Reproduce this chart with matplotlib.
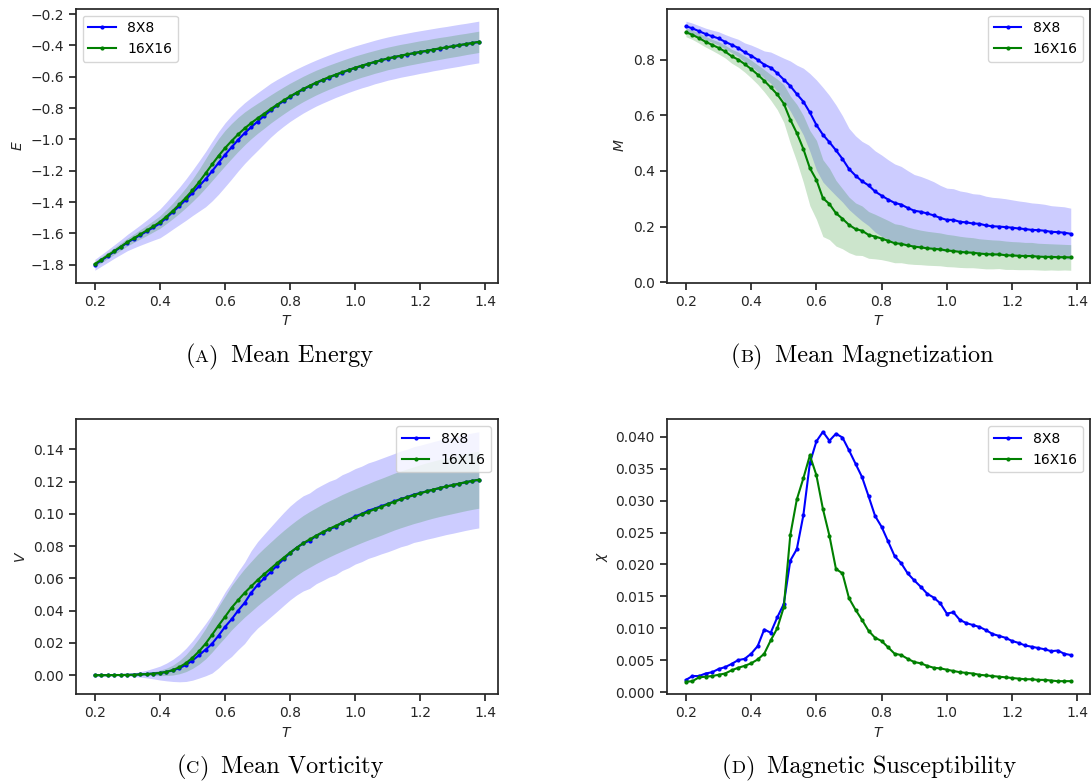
import matplotlib
matplotlib.use("Agg")
import matplotlib.pyplot as plt
import numpy as np
from matplotlib.offsetbox import TextArea, HPacker, AnnotationBbox

# temperatures, 0.20 .. 1.38 in steps of 0.02
T = np.round(np.arange(0.20, 1.3801, 0.02), 2)
sizes = ["8X8", "16X16"]
colors = ["blue", "green"]

# mean energy
E_8 = [-1.800, -1.772, -1.744, -1.715, -1.687, -1.658, -1.634, -1.610, -1.586, -1.561,
       -1.536, -1.500, -1.462, -1.424, -1.384, -1.341, -1.298, -1.254, -1.203, -1.150,
       -1.098, -1.050, -1.003, -0.960, -0.922, -0.886, -0.850, -0.814, -0.783, -0.755,
       -0.728, -0.704, -0.681, -0.660, -0.640, -0.622, -0.605, -0.588, -0.573, -0.558,
       -0.544, -0.531, -0.519, -0.506, -0.495, -0.484, -0.475, -0.466, -0.458, -0.450,
       -0.442, -0.435, -0.427, -0.420, -0.413, -0.406, -0.399, -0.392, -0.385, -0.378]
E_16 = [-1.795, -1.768, -1.740, -1.712, -1.684, -1.655, -1.630, -1.605, -1.580, -1.554,
        -1.527, -1.492, -1.455, -1.414, -1.371, -1.324, -1.273, -1.217, -1.160, -1.105,
        -1.055, -1.010, -0.968, -0.930, -0.896, -0.865, -0.836, -0.806, -0.778, -0.751,
        -0.725, -0.701, -0.678, -0.657, -0.637, -0.619, -0.602, -0.586, -0.571, -0.556,
        -0.542, -0.529, -0.517, -0.505, -0.494, -0.483, -0.474, -0.465, -0.457, -0.449,
        -0.441, -0.434, -0.426, -0.419, -0.412, -0.405, -0.398, -0.391, -0.384, -0.377]
E_8_std = [0.035, 0.037, 0.040, 0.043, 0.047, 0.052, 0.058, 0.065, 0.073, 0.082,
           0.092, 0.101, 0.110, 0.120, 0.132, 0.145, 0.160, 0.176, 0.190, 0.200,
           0.204, 0.203, 0.199, 0.194, 0.189, 0.184, 0.178, 0.172, 0.166, 0.161,
           0.157, 0.154, 0.151, 0.149, 0.147, 0.146, 0.145, 0.144, 0.143, 0.142,
           0.141, 0.140, 0.140, 0.139, 0.139, 0.138, 0.138, 0.137, 0.137, 0.137,
           0.136, 0.136, 0.135, 0.135, 0.134, 0.134, 0.134, 0.133, 0.133, 0.133]
E_16_std = [0.018, 0.019, 0.020, 0.022, 0.023, 0.025, 0.027, 0.030, 0.033, 0.036,
            0.040, 0.045, 0.050, 0.057, 0.064, 0.072, 0.082, 0.093, 0.103, 0.110,
            0.113, 0.112, 0.109, 0.105, 0.100, 0.096, 0.093, 0.090, 0.088, 0.086,
            0.084, 0.082, 0.081, 0.080, 0.079, 0.078, 0.077, 0.076, 0.076, 0.075,
            0.075, 0.074, 0.074, 0.073, 0.073, 0.072, 0.072, 0.072, 0.071, 0.071,
            0.071, 0.070, 0.070, 0.070, 0.069, 0.069, 0.069, 0.068, 0.068, 0.068]

# mean magnetization
M_8 = [0.920, 0.912, 0.902, 0.892, 0.884, 0.876, 0.864, 0.853, 0.842, 0.826,
       0.814, 0.799, 0.782, 0.771, 0.751, 0.728, 0.705, 0.676, 0.649, 0.610,
       0.565, 0.530, 0.503, 0.474, 0.443, 0.407, 0.383, 0.363, 0.348, 0.326,
       0.311, 0.297, 0.285, 0.279, 0.267, 0.257, 0.253, 0.247, 0.240, 0.231,
       0.224, 0.224, 0.217, 0.215, 0.211, 0.210, 0.204, 0.201, 0.200, 0.198,
       0.196, 0.193, 0.191, 0.188, 0.187, 0.185, 0.181, 0.180, 0.178, 0.174]
M_16 = [0.898, 0.889, 0.877, 0.864, 0.853, 0.842, 0.829, 0.812, 0.800, 0.784,
        0.766, 0.746, 0.724, 0.700, 0.675, 0.642, 0.584, 0.536, 0.479, 0.410,
        0.368, 0.302, 0.281, 0.248, 0.228, 0.206, 0.191, 0.185, 0.170, 0.164,
        0.157, 0.149, 0.140, 0.138, 0.132, 0.128, 0.125, 0.122, 0.120, 0.118,
        0.114, 0.112, 0.109, 0.107, 0.106, 0.103, 0.101, 0.100, 0.100, 0.097,
        0.096, 0.095, 0.094, 0.094, 0.092, 0.091, 0.091, 0.090, 0.090, 0.089]
M_8_std = [0.018, 0.019, 0.020, 0.021, 0.022, 0.024, 0.026, 0.028, 0.031, 0.034,
           0.038, 0.043, 0.049, 0.056, 0.065, 0.077, 0.090, 0.104, 0.120, 0.140,
           0.162, 0.170, 0.168, 0.163, 0.155, 0.146, 0.143, 0.143, 0.145, 0.146,
           0.146, 0.143, 0.140, 0.137, 0.134, 0.130, 0.127, 0.124, 0.121, 0.117,
           0.114, 0.112, 0.111, 0.109, 0.107, 0.106, 0.105, 0.104, 0.103, 0.102,
           0.100, 0.099, 0.098, 0.097, 0.096, 0.095, 0.094, 0.093, 0.093, 0.092]
M_16_std = [0.016, 0.017, 0.018, 0.019, 0.020, 0.022, 0.023, 0.025, 0.027, 0.029,
            0.032, 0.035, 0.040, 0.046, 0.055, 0.068, 0.085, 0.103, 0.120, 0.135,
            0.142, 0.138, 0.128, 0.118, 0.108, 0.100, 0.094, 0.089, 0.084, 0.080,
            0.076, 0.073, 0.070, 0.068, 0.066, 0.064, 0.062, 0.061, 0.060, 0.059,
            0.058, 0.057, 0.056, 0.055, 0.054, 0.053, 0.053, 0.052, 0.051, 0.051,
            0.050, 0.050, 0.049, 0.049, 0.048, 0.048, 0.047, 0.047, 0.046, 0.046]

# mean vorticity
V_8 = [0.0000, 0.0000, 0.0000, 0.0001, 0.0001, 0.0002, 0.0003, 0.0005, 0.0007, 0.0010,
       0.0013, 0.0020, 0.0030, 0.0044, 0.0064, 0.0091, 0.0124, 0.0158, 0.0195, 0.0245,
       0.0300, 0.0346, 0.0400, 0.0448, 0.0510, 0.0560, 0.0600, 0.0640, 0.0680, 0.0720,
       0.0758, 0.0790, 0.0817, 0.0834, 0.0863, 0.0884, 0.0905, 0.0920, 0.0946, 0.0963,
       0.0985, 0.1000, 0.1020, 0.1033, 0.1048, 0.1062, 0.1077, 0.1093, 0.1104, 0.1120,
       0.1129, 0.1140, 0.1150, 0.1160, 0.1170, 0.1178, 0.1187, 0.1196, 0.1204, 0.1211]
V_16 = [0.0000, 0.0000, 0.0000, 0.0001, 0.0001, 0.0002, 0.0003, 0.0005, 0.0007, 0.0010,
        0.0014, 0.0021, 0.0032, 0.0050, 0.0075, 0.0108, 0.0148, 0.0195, 0.0250, 0.0308,
        0.0362, 0.0418, 0.0465, 0.0510, 0.0550, 0.0590, 0.0626, 0.0660, 0.0695, 0.0728,
        0.0760, 0.0790, 0.0818, 0.0842, 0.0865, 0.0887, 0.0907, 0.0926, 0.0945, 0.0963,
        0.0980, 0.0997, 0.1013, 0.1029, 0.1044, 0.1060, 0.1076, 0.1090, 0.1103, 0.1116,
        0.1128, 0.1140, 0.1151, 0.1161, 0.1170, 0.1179, 0.1188, 0.1197, 0.1205, 0.1212]
V_8_std = [0.0000, 0.0001, 0.0002, 0.0003, 0.0005, 0.0008, 0.0012, 0.0017, 0.0024, 0.0033,
           0.0043, 0.0055, 0.0069, 0.0085, 0.0103, 0.0122, 0.0142, 0.0162, 0.0182, 0.0200,
           0.0216, 0.0230, 0.0242, 0.0252, 0.0261, 0.0268, 0.0274, 0.0279, 0.0284, 0.0288,
           0.0291, 0.0293, 0.0295, 0.0296, 0.0296, 0.0297, 0.0297, 0.0297, 0.0297, 0.0297,
           0.0296, 0.0296, 0.0296, 0.0296, 0.0296, 0.0297, 0.0297, 0.0297, 0.0297, 0.0297,
           0.0297, 0.0297, 0.0298, 0.0298, 0.0298, 0.0298, 0.0298, 0.0298, 0.0298, 0.0298]
V_16_std = [0.0000, 0.0000, 0.0001, 0.0001, 0.0002, 0.0003, 0.0004, 0.0006, 0.0009, 0.0012,
            0.0017, 0.0023, 0.0031, 0.0041, 0.0053, 0.0066, 0.0080, 0.0094, 0.0107, 0.0118,
            0.0128, 0.0137, 0.0144, 0.0150, 0.0155, 0.0159, 0.0162, 0.0165, 0.0167, 0.0169,
            0.0170, 0.0171, 0.0172, 0.0173, 0.0173, 0.0174, 0.0174, 0.0174, 0.0175, 0.0175,
            0.0175, 0.0175, 0.0175, 0.0176, 0.0176, 0.0176, 0.0176, 0.0176, 0.0176, 0.0176,
            0.0177, 0.0177, 0.0177, 0.0177, 0.0177, 0.0177, 0.0177, 0.0177, 0.0177, 0.0177]

# magnetic susceptibility
X_8 = [0.0019, 0.0025, 0.0025, 0.0029, 0.0031, 0.0036, 0.0039, 0.0044, 0.0050, 0.0052,
       0.0060, 0.0072, 0.0098, 0.0093, 0.0117, 0.0138, 0.0206, 0.0224, 0.0277, 0.0359,
       0.0393, 0.0408, 0.0394, 0.0405, 0.0399, 0.0379, 0.0358, 0.0337, 0.0307, 0.0276,
       0.0259, 0.0236, 0.0213, 0.0202, 0.0186, 0.0175, 0.0165, 0.0154, 0.0148, 0.0139,
       0.0123, 0.0125, 0.0113, 0.0108, 0.0105, 0.0102, 0.0097, 0.0091, 0.0088, 0.0085,
       0.0080, 0.0077, 0.0073, 0.0071, 0.0069, 0.0067, 0.0064, 0.0065, 0.0060, 0.0058]
X_16 = [0.0016, 0.0017, 0.0023, 0.0024, 0.0025, 0.0027, 0.0029, 0.0034, 0.0038, 0.0041,
        0.0045, 0.0051, 0.0060, 0.0081, 0.0100, 0.0133, 0.0246, 0.0302, 0.0335, 0.0371,
        0.0340, 0.0287, 0.0245, 0.0193, 0.0186, 0.0147, 0.0129, 0.0113, 0.0096, 0.0085,
        0.0080, 0.0070, 0.0060, 0.0058, 0.0052, 0.0047, 0.0045, 0.0041, 0.0038, 0.0037,
        0.0035, 0.0033, 0.0031, 0.0030, 0.0029, 0.0027, 0.0026, 0.0025, 0.0024, 0.0023,
        0.0022, 0.0021, 0.0020, 0.0020, 0.0019, 0.0019, 0.0018, 0.0017, 0.0017, 0.0017]

plt.rcParams.update({
    "font.family": "DejaVu Sans",
    "font.size": 10,
    "axes.edgecolor": "#262626",
    "axes.linewidth": 1.25,
    "xtick.color": "#262626",
    "ytick.color": "#262626",
    "xtick.major.size": 5,
    "ytick.major.size": 5,
    "xtick.major.width": 1.25,
    "ytick.major.width": 1.25,
    "axes.labelcolor": "#262626",
})

W, H = 1091, 783
fig = plt.figure(figsize=(W / 100, H / 100), dpi=100)


def px_axes(left, top, right, bottom):
    return fig.add_axes([left / W, 1 - bottom / H, (right - left) / W, (bottom - top) / H])


ax_e = px_axes(75.7, 8.7, 498, 282.7)
ax_m = px_axes(666.7, 8.7, 1090, 282.7)
ax_v = px_axes(75.7, 419.3, 498, 694.3)
ax_x = px_axes(666.7, 419.3, 1090, 694.3)


def draw_panel(ax, means, stds, ylabel, legend_loc):
    if stds is not None:
        for m, s, c in zip(means, stds, colors):
            m, s = np.array(m), np.array(s)
            ax.fill_between(T, m - s, m + s, color=c, alpha=0.2, linewidth=0)
    for m, c, lab in zip(means, colors, sizes):
        ax.plot(T, m, color=c, marker=".", markersize=4, linewidth=1.5, label=lab)
    ax.set_xlabel("$T$")
    ax.set_ylabel(ylabel)
    ax.set_xticks([0.2, 0.4, 0.6, 0.8, 1.0, 1.2, 1.4])
    ax.legend(loc=legend_loc)


draw_panel(ax_e, [E_8, E_16], [E_8_std, E_16_std], "$E$", "upper left")
draw_panel(ax_m, [M_8, M_16], [M_8_std, M_16_std], "$M$", "upper right")
draw_panel(ax_v, [V_8, V_16], [V_8_std, V_16_std], "$V$", "upper right")
draw_panel(ax_x, [X_8, X_16], None, r"$\chi$", "upper right")
ax_e.set_yticks(np.arange(-1.8, -0.19, 0.2))
ax_m.set_yticks([0.0, 0.2, 0.4, 0.6, 0.8])


def caption(x, y, letter, title, size=17.5):
    props = dict(family="cmr10", fontsize=size, color="black")
    small = dict(family="cmr10", fontsize=size * 0.76, color="black")
    label = HPacker(children=[TextArea("(", textprops=props),
                              TextArea(letter, textprops=small),
                              TextArea(")", textprops=props)],
                    align="baseline", pad=0, sep=0)
    box = HPacker(children=[label, TextArea(title, textprops=props)],
                  align="baseline", pad=0, sep=9)
    ab = AnnotationBbox(box, (x / W, 1 - y / H), xycoords="figure fraction",
                        frameon=False, box_alignment=(0.5, 0.5))
    fig.add_artist(ab)


caption(279, 356, "A", "Mean Energy")
caption(862, 356, "B", "Mean Magnetization")
caption(280, 767, "C", "Mean Vorticity")
caption(869, 767, "D", "Magnetic Susceptibility")

fig.savefig("out.png", dpi=100)
